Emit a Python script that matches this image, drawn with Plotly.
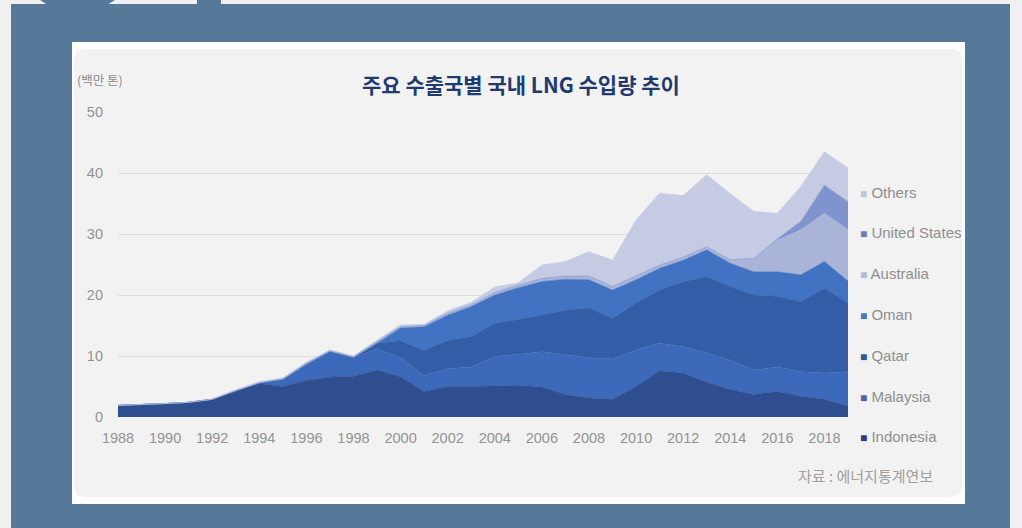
import plotly.graph_objects as go

# ---------------- data (million tonnes) ----------------
years = list(range(1988, 2020))
indonesia = [1.9, 2.0, 2.2, 2.4, 2.9, 4.3, 5.5, 5.0, 6.0, 6.5, 6.7, 7.7, 6.6, 4.2, 5.0, 5.0,
             5.1, 5.2, 4.9, 3.7, 3.1, 2.9, 5.0, 7.6, 7.2, 5.7, 4.5, 3.7, 4.2, 3.4, 2.9, 1.8]
malaysia = [0, 0, 0, 0, 0, 0, 0.1, 1.1, 2.6, 4.2, 3.0, 3.5, 3.1, 2.6, 2.9, 3.2,
            4.8, 5.1, 5.8, 6.5, 6.6, 6.6, 6.0, 4.5, 4.3, 4.8, 4.8, 4.0, 4.0, 4.0, 4.3, 5.6]
qatar = [0, 0, 0, 0, 0, 0, 0, 0, 0, 0, 0, 0.9, 2.8, 4.1, 4.7, 5.0,
         5.5, 5.7, 6.0, 7.3, 8.2, 6.7, 7.7, 8.7, 10.7, 12.5, 12.1, 12.3, 11.6, 11.5, 13.9, 11.3]
oman = [0, 0, 0, 0, 0, 0, 0, 0, 0, 0, 0, 0, 2.1, 3.9, 4.1, 4.9,
        4.6, 5.2, 5.5, 5.1, 4.6, 4.6, 3.8, 3.6, 3.5, 4.4, 3.8, 3.8, 4.0, 4.4, 4.4, 3.6]
australia = [0, 0, 0, 0, 0, 0, 0, 0.2, 0.2, 0.2, 0.2, 0.3, 0.2, 0.2, 0.3, 0.3,
             0.4, 0.4, 0.5, 0.5, 0.6, 0.6, 0.6, 0.5, 0.5, 0.5, 0.6, 2.2, 5.2, 7.4, 7.9, 8.4]
united_states = [0, 0, 0, 0, 0, 0, 0, 0, 0, 0, 0, 0, 0, 0, 0, 0,
                 0, 0, 0, 0, 0, 0, 0, 0, 0, 0, 0, 0, 0.2, 1.4, 4.6, 4.6]
others = [0, 0, 0, 0, 0, 0.2, 0.2, 0.1, 0.2, 0.1, 0.1, 0.2, 0.3, 0.2, 0.4, 0.4,
          0.9, 0.4, 2.2, 2.4, 4.0, 4.3, 9.2, 11.8, 10.1, 11.8, 10.8, 7.7, 4.2, 5.7, 5.5, 5.5]

series_names = ["Indonesia", "Malaysia", "Qatar", "Oman", "Australia", "United States", "Others"]
series_values = [indonesia, malaysia, qatar, oman, australia, united_states, others]
fill_colors = ["#2f4e8f", "#3c69b9", "#335ea7", "#4272c2", "#aab4d9", "#7f94cf", "#c4cbe2"]
legend_colors = ["#2e3b7c", "#5160a8", "#2f5a8f", "#4a78b6", "#b3b8dc", "#6b7fc0", "#c0c5d8"]

x_ticks = list(range(1988, 2019, 2))
y_ticks = [0, 10, 20, 30, 40, 50]

title_text = "주요 수출국별 국내 LNG 수입량 추이"
unit_text = "(백만 톤)"
source_text = "자료 : 에너지통계연보"

# ---------------- figure ----------------
W, H = 1022, 528
def px(x):
    return x / W
def py(y):
    return 1 - y / H

fig = go.Figure()
for name, vals, col in zip(series_names, series_values, fill_colors):
    fig.add_trace(go.Scatter(
        x=years, y=vals, name=name, mode="lines", stackgroup="one",
        line=dict(width=0.6, color=col), fillcolor=col, showlegend=False,
        hoverinfo="x+y+name"))

plot_l, plot_r, plot_t, plot_b = 118, 848, 112, 417

steel = "#56799a"
shapes = []
# steel-blue background frame
shapes.append(dict(type="rect", xref="paper", yref="paper", x0=px(11), x1=px(1010),
                   y0=py(528), y1=py(4), fillcolor=steel, line_width=0, layer="below"))
# decorative top shapes
shapes.append(dict(type="circle", xref="paper", yref="paper", x0=px(13), x1=px(142),
                   y0=py(12), y1=py(-117), fillcolor=steel, line_width=0, layer="below"))
shapes.append(dict(type="rect", xref="paper", yref="paper", x0=px(197), x1=px(221),
                   y0=py(6), y1=py(0), fillcolor=steel, line_width=0, layer="below"))
# white panel
shapes.append(dict(type="rect", xref="paper", yref="paper", x0=px(72), x1=px(965),
                   y0=py(504), y1=py(42), fillcolor="#ffffff", line_width=0, layer="below"))
# light gray rounded panel
r = 12
x0, x1, y0, y1 = 74, 962, 49, 497
path = (f"M {px(x0 + r)} {py(y0)} L {px(x1 - r)} {py(y0)} "
        f"Q {px(x1)} {py(y0)} {px(x1)} {py(y0 + r)} L {px(x1)} {py(y1 - r)} "
        f"Q {px(x1)} {py(y1)} {px(x1 - r)} {py(y1)} L {px(x0 + r)} {py(y1)} "
        f"Q {px(x0)} {py(y1)} {px(x0)} {py(y1 - r)} L {px(x0)} {py(y0 + r)} "
        f"Q {px(x0)} {py(y0)} {px(x0 + r)} {py(y0)} Z")
shapes.append(dict(type="path", xref="paper", yref="paper", path=path,
                   fillcolor="#f2f2f2", line_width=0, layer="below"))

annotations = []
annotations.append(dict(text=f"<b>{title_text}</b>", xref="paper", yref="paper",
                        x=px(521), y=py(84), xanchor="center", yanchor="middle", showarrow=False,
                        font=dict(family="Noto Sans CJK KR", size=21, color="#1f3a6e")))
annotations.append(dict(text=unit_text, xref="paper", yref="paper",
                        x=px(75), y=py(80), xanchor="left", yanchor="middle", showarrow=False,
                        font=dict(family="Noto Sans CJK KR", size=12.5, color="#8a8a8a")))
annotations.append(dict(text=source_text, xref="paper", yref="paper",
                        x=px(935), y=py(475), xanchor="right", yanchor="middle", showarrow=False,
                        font=dict(family="Noto Sans CJK KR", size=15, color="#a0a0a0")))
# legend (top: Others ... bottom: Indonesia)
leg_top, leg_step = 192, 40.8
for i, (name, col) in enumerate(zip(reversed(series_names), reversed(legend_colors))):
    annotations.append(dict(
        text=f"<span style='color:{col};font-size:12px'>■</span> {name}",
        xref="paper", yref="paper",
        x=px(858), y=py(leg_top + i * leg_step), xanchor="left", yanchor="middle",
        showarrow=False, font=dict(family="Liberation Sans", size=15, color="#8f8f8f")))

fig.update_layout(
    width=W, height=H, margin=dict(l=0, r=0, t=0, b=0, pad=0, autoexpand=False),
    paper_bgcolor="#f0f0f0", plot_bgcolor="#ffffff",
    shapes=shapes, annotations=annotations, showlegend=False,
    xaxis=dict(domain=[px(plot_l), px(plot_r)], range=[1988, 2019], tickvals=x_ticks,
               showgrid=False, zeroline=False, showline=False, ticks="",
               ticklabelstandoff=10, automargin=False,
               tickfont=dict(family="Liberation Sans", size=14.5, color="#939393")),
    yaxis=dict(domain=[py(plot_b), py(plot_t)], range=[0, 50], tickvals=y_ticks,
               showgrid=True, gridcolor="#dedede", gridwidth=1, zeroline=False,
               showline=False, ticks="", ticklabelstandoff=14, automargin=False,
               tickfont=dict(family="Liberation Sans", size=14.5, color="#939393")),
)

fig.write_html("out.html", config={"displayModeBar": False},
               post_script="document.body.style.margin='0';document.body.style.overflow='hidden';")
